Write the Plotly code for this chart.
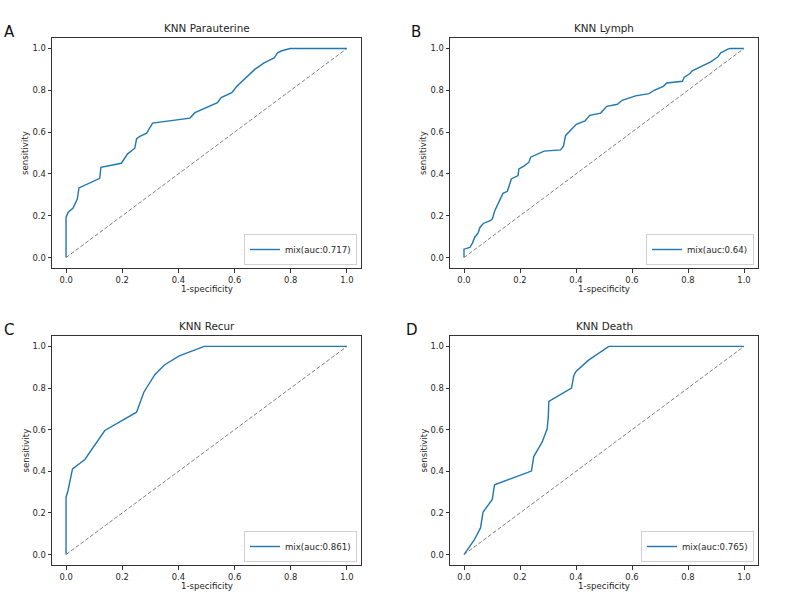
import plotly.graph_objects as go

# ---- data ----
titles = ["KNN Parauterine", "KNN Lymph", "KNN Recur", "KNN Death"]
panel_labels = ["A", "B", "C", "D"]
legend_names = ["mix(auc:0.717)", "mix(auc:0.64)", "mix(auc:0.861)", "mix(auc:0.765)"]

fpr_a = [0, 0, 0.007, 0.025, 0.040, 0.046, 0.120, 0.124, 0.197, 0.219, 0.245, 0.251, 0.263, 0.287,
         0.308, 0.441, 0.459, 0.539, 0.552, 0.590, 0.608, 0.625, 0.639, 0.673, 0.705, 0.741, 0.753,
         0.768, 0.798, 1.0]
tpr_a = [0, 0.192, 0.216, 0.237, 0.28, 0.333, 0.379, 0.432, 0.451, 0.496, 0.523, 0.568, 0.579, 0.595,
         0.643, 0.667, 0.693, 0.741, 0.765, 0.789, 0.819, 0.84, 0.861, 0.901, 0.931, 0.955, 0.979,
         0.989, 1.0, 1.0]

fpr_b = [0, 0, 0.021, 0.030, 0.038, 0.05, 0.057, 0.069, 0.093, 0.101, 0.11, 0.139, 0.155, 0.169,
         0.193, 0.196, 0.214, 0.232, 0.238, 0.262, 0.286, 0.345, 0.355, 0.363, 0.401, 0.432, 0.449,
         0.488, 0.510, 0.548, 0.565, 0.613, 0.661, 0.679, 0.712, 0.724, 0.78, 0.786, 0.807, 0.815,
         0.833, 0.855, 0.881, 0.907, 0.917, 0.944, 0.952, 1.0]
tpr_b = [0, 0.04, 0.048, 0.069, 0.096, 0.117, 0.144, 0.163, 0.176, 0.184, 0.224, 0.307, 0.317, 0.376,
         0.392, 0.424, 0.437, 0.456, 0.48, 0.493, 0.509, 0.515, 0.533, 0.584, 0.637, 0.653, 0.68,
         0.691, 0.723, 0.733, 0.752, 0.773, 0.784, 0.8, 0.819, 0.835, 0.843, 0.861, 0.88, 0.893,
         0.904, 0.92, 0.936, 0.96, 0.979, 0.998, 1.0, 1.0]

fpr_c = [0, 0, 0.007, 0.015, 0.023, 0.067, 0.138, 0.251, 0.265, 0.277, 0.316, 0.350, 0.403, 0.441,
         0.492, 1.0]
tpr_c = [0, 0.276, 0.308, 0.356, 0.412, 0.457, 0.596, 0.684, 0.740, 0.780, 0.864, 0.911, 0.955, 0.974,
         1.0, 1.0]

fpr_d = [0, 0.018, 0.036, 0.059, 0.068, 0.101, 0.109, 0.241, 0.249, 0.279, 0.297, 0.301, 0.303, 0.384,
         0.392, 0.400, 0.445, 0.517, 1.0]
tpr_d = [0, 0.032, 0.069, 0.128, 0.204, 0.265, 0.335, 0.401, 0.471, 0.540, 0.604, 0.66, 0.736, 0.800,
         0.859, 0.880, 0.934, 1.0, 1.0]

curves = [(fpr_a, tpr_a), (fpr_b, tpr_b), (fpr_c, tpr_c), (fpr_d, tpr_d)]
diag = [0, 1]

# ---- layout geometry (paper fractions) ----
W, H = 800, 600
boxes = [  # left, right, top, bottom in px
    (52, 361, 38, 268),
    (450, 758, 38, 268),
    (52, 361, 336, 565),
    (450, 758, 336, 565),
]
label_pos = [(9, 32), (416, 32), (9, 330), (412, 330)]

FONT = "DejaVu Sans"
BLUE = "#1f77b4"
TXT = "#262626"

fig = go.Figure()
layout = dict(
    width=W, height=H, margin=dict(l=0, r=0, t=0, b=0),
    paper_bgcolor="white", plot_bgcolor="white",
    font=dict(family=FONT, size=8.6, color=TXT),
    showlegend=True,
)
annotations = []

for i, ((fx, ty), (l, r, t, b)) in enumerate(zip(curves, boxes)):
    n = "" if i == 0 else str(i + 1)
    xa, ya = "x" + n, "y" + n
    lg = "legend" + n
    fig.add_trace(go.Scatter(x=fx, y=ty, mode="lines", line=dict(color=BLUE, width=1.4),
                             name=legend_names[i], xaxis=xa, yaxis=ya, legend=lg))
    fig.add_trace(go.Scatter(x=diag, y=diag, mode="lines",
                             line=dict(color="gray", width=1, dash="4px,2px"),
                             showlegend=False, xaxis=xa, yaxis=ya))
    xd = [l / W, r / W]
    yd = [1 - b / H, 1 - t / H]
    axcommon = dict(range=[-0.05, 1.05], showgrid=False, zeroline=False, showline=True,
                    linecolor="#333", linewidth=1, mirror=True, ticks="outside", ticklen=3.5,
                    tickcolor="#333", tickvals=[0, 0.2, 0.4, 0.6, 0.8, 1.0],
                    ticktext=["0.0", "0.2", "0.4", "0.6", "0.8", "1.0"],
                    tickfont=dict(family=FONT, size=8.4, color=TXT))
    layout["xaxis" + n] = dict(domain=xd, anchor=ya, **axcommon)
    layout["yaxis" + n] = dict(domain=yd, anchor=xa, **axcommon)
    layout[lg] = dict(x=(r - 4) / W, y=1 - (b - 3) / H, xref="paper", yref="paper",
                      xanchor="right", yanchor="bottom", bgcolor="white",
                      bordercolor="#d0d0d0", borderwidth=1, itemwidth=30,
                      font=dict(family=FONT, size=8.6, color=TXT))
    cx = (l + r) / 2
    annotations.append(dict(text=titles[i], x=cx / W, y=1 - (t - 10) / H, xref="paper", yref="paper",
                            showarrow=False, font=dict(family=FONT, size=10.4, color=TXT),
                            xanchor="center", yanchor="middle"))
    annotations.append(dict(text="sensitivity", x=(l - 27) / W, y=1 - ((t + b) / 2) / H,
                            xref="paper", yref="paper", showarrow=False, textangle=-90,
                            font=dict(family=FONT, size=8.6, color=TXT),
                            xanchor="center", yanchor="middle"))
    annotations.append(dict(text="1-specificity", x=cx / W, y=1 - (b + 21) / H,
                            xref="paper", yref="paper", showarrow=False,
                            font=dict(family=FONT, size=8.6, color=TXT),
                            xanchor="center", yanchor="middle"))
    lx, ly = label_pos[i]
    annotations.append(dict(text=panel_labels[i], x=lx / W, y=1 - ly / H, xref="paper", yref="paper",
                            showarrow=False, font=dict(family=FONT, size=15, color="#111"),
                            xanchor="center", yanchor="middle"))

layout["annotations"] = annotations
fig.update_layout(**layout)
fig.write_html("out.html", config={"displayModeBar": False},
               post_script="document.body.style.margin='0';")
